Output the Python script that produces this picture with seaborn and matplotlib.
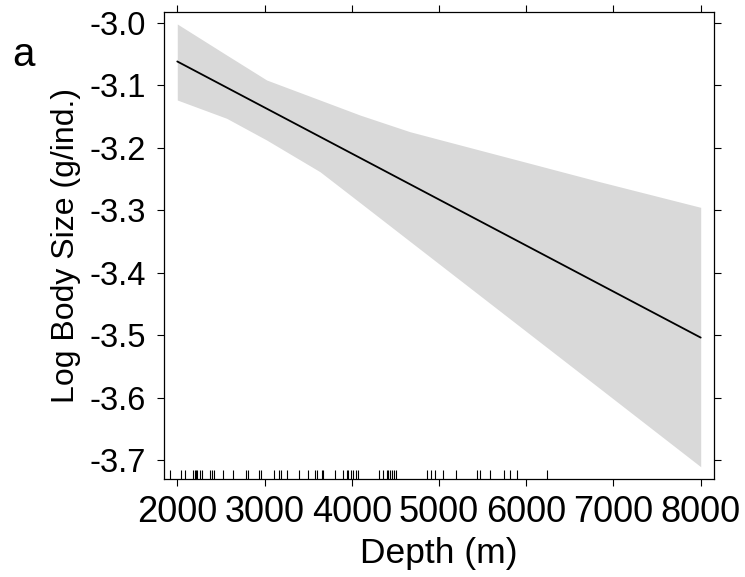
import matplotlib
matplotlib.use("Agg")
import matplotlib.pyplot as plt
import seaborn as sns
import numpy as np
import pandas as pd

# ---- data ----
fit_depth = [2000, 8000]
fit_values = [-3.062, -3.504]
band_depth = [2000, 2566, 3025, 3636, 4095, 4668, 6843, 8000]
upper_ci = [-3.002, -3.0517, -3.0917, -3.1237, -3.1478, -3.1745, -3.2545, -3.2955]
lower_ci = [-3.1237, -3.153, -3.1878, -3.2385, -3.288, -3.350, -3.5853, -3.7107]
rug_depths = [1916, 2039, 2088, 2183, 2199, 2214, 2229, 2260, 2280, 2375, 2394, 2421,
              2527, 2635, 2787, 2807, 2940, 2956, 3108, 3169, 3185, 3261, 3398, 3501,
              3578, 3597, 3655, 3673, 3807, 3896, 3948, 3962, 3987, 4010, 4048, 4068,
              4315, 4354, 4400, 4418, 4438, 4459, 4482, 4505, 4858, 4904, 4953, 5049,
              5194, 5438, 5469, 5583, 5748, 5815, 5897, 6234]
x_ticks = [2000, 3000, 4000, 5000, 6000, 7000, 8000]
y_ticks = [-3.0, -3.1, -3.2, -3.3, -3.4, -3.5, -3.6, -3.7]
x_label = "Depth (m)"
y_label = "Log Body Size (g/ind.)"
panel_label = "a"

sns.set_style("ticks")
plt.rcParams['font.family'] = ['Liberation Sans', 'DejaVu Sans']
plt.rcParams['text.color'] = 'black'
plt.rcParams['axes.labelcolor'] = 'black'
plt.rcParams['xtick.color'] = 'black'
plt.rcParams['ytick.color'] = 'black'

fig = plt.figure(figsize=(7.45, 5.77), dpi=100)
ax = fig.add_axes([0.2205, 0.1698, 0.7383, 0.8089])

band = pd.DataFrame({"depth": band_depth, "lo": lower_ci, "hi": upper_ci})
fit = pd.DataFrame({"depth": fit_depth, "fit": fit_values})

ax.fill_between(band["depth"], band["lo"], band["hi"], color="#d9d9d9", linewidth=0, zorder=1)
sns.lineplot(data=fit, x="depth", y="fit", ax=ax, color="black", linewidth=1.3, zorder=3)
sns.rugplot(x=rug_depths, ax=ax, height=0.02, color="black", linewidth=0.8, zorder=2)

ax.set_xlim(1851, 8156)
ax.set_ylim(-3.7304, -2.9833)
ax.set_xticks(x_ticks)
ax.set_xticklabels([str(v) for v in x_ticks])
ax.set_yticks(y_ticks)
ax.set_yticklabels([f"{v:.1f}" for v in y_ticks])

for s in ax.spines.values():
    s.set_visible(True)
    s.set_linewidth(0.9)
    s.set_color("black")

ax.tick_params(axis="both", which="both", direction="out", length=5, width=0.8,
               color="black", labelcolor="black", top=True, right=True)
ax.tick_params(axis="x", labelsize=26, pad=6.5)
ax.tick_params(axis="y", labelsize=23.5, pad=8)

ax.set_xlabel(x_label, fontsize=25.5, labelpad=5, color="black")
ax.set_ylabel(y_label, fontsize=23, labelpad=6, color="black")

fig.text(23.5 / 745, 1 - 55 / 577, panel_label, fontsize=29, ha="center", va="center",
         color="black")

fig.savefig("out.png", dpi=100)
